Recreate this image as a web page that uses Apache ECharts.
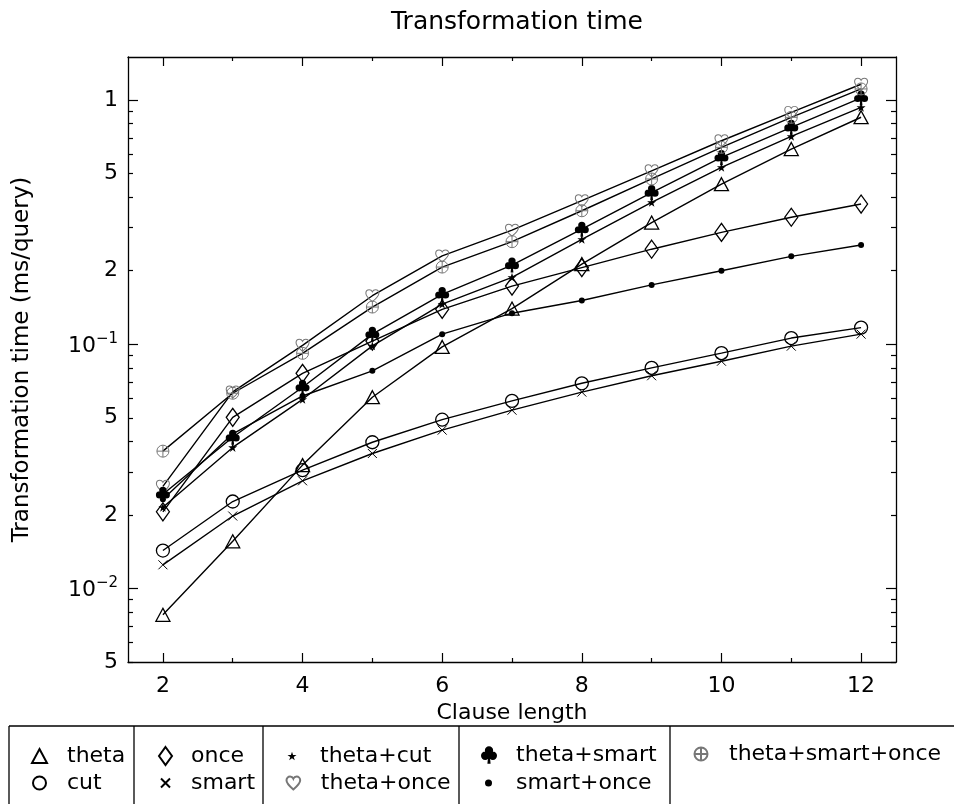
<!DOCTYPE html>
<html><head><meta charset="utf-8">
<script src="https://cdn.jsdelivr.net/npm/echarts@6/dist/echarts.min.js"></script>
<style>html,body{margin:0;padding:0;background:#fff}#c{width:954px;height:804px}</style>
</head><body><div id="c"></div>
<script>
// ---------- data ----------
const clauseLengths = [2, 3, 4, 5, 6, 7, 8, 9, 10, 11, 12];
const theta          = [0.0078, 0.0156, 0.0320, 0.0607, 0.0975, 0.140, 0.213, 0.315, 0.452, 0.630, 0.850];
const cut            = [0.0143, 0.0227, 0.0305, 0.0397, 0.0491, 0.0586, 0.0692, 0.0800, 0.0920, 0.106, 0.117];
const smart          = [0.0125, 0.0198, 0.0276, 0.0357, 0.0445, 0.0537, 0.0637, 0.0743, 0.0852, 0.0982, 0.110];
const once           = [0.0206, 0.0502, 0.0760, 0.103, 0.139, 0.173, 0.206, 0.245, 0.287, 0.331, 0.375];
const thetaCut       = [0.0215, 0.0378, 0.0595, 0.0985, 0.146, 0.188, 0.269, 0.381, 0.530, 0.710, 0.933];
const thetaOnce      = [0.0262, 0.0638, 0.0990, 0.158, 0.230, 0.293, 0.387, 0.513, 0.681, 0.890, 1.16];
const thetaSmart     = [0.0243, 0.0416, 0.0667, 0.110, 0.160, 0.211, 0.296, 0.418, 0.582, 0.773, 1.02];
const smartOnce      = [0.0232, 0.0430, 0.0614, 0.0778, 0.110, 0.134, 0.151, 0.175, 0.200, 0.229, 0.255];
const thetaSmartOnce = [0.0365, 0.0630, 0.0918, 0.142, 0.207, 0.263, 0.352, 0.475, 0.640, 0.849, 1.11];

const xMajorTicks = [2, 4, 6, 8, 10, 12];
const xMinorTicks = [3, 5, 7, 9, 11];
const yLabelValues = [0.005, 0.01, 0.02, 0.05, 0.1, 0.2, 0.5, 1];
const yMajorTicks = [0.01, 0.1, 1];
const yMinorTicks = [0.005, 0.006, 0.007, 0.008, 0.009,
                     0.02, 0.03, 0.04, 0.05, 0.06, 0.07, 0.08, 0.09,
                     0.2, 0.3, 0.4, 0.5, 0.6, 0.7, 0.8, 0.9];

// ---------- styling ----------
const FONT = 'DejaVu Sans';
const BLACK = '#000';
const GREY = '#777';
const NOFILL = 'rgba(0,0,0,0)';

const SYM = {
  cross: 'path://M0,0L10,10M10,0L0,10',
  star: 'path://M5,0L6.2,3.6L10,3.6L6.9,5.9L8.1,9.5L5,7.3L1.9,9.5L3.1,5.9L0,3.6L3.8,3.6Z',
  heart: 'path://M5,9.5C2,7 0,5 0,2.8C0,1.2 1.2,0 2.6,0C3.7,0 4.6,0.7 5,1.6C5.4,0.7 6.3,0 7.4,0C8.8,0 10,1.2 10,2.8C10,5 8,7 5,9.5Z',
  club: 'path://M2.4,2.7A2.6,2.6 0 1,0 7.6,2.7A2.6,2.6 0 1,0 2.4,2.7ZM0,6A2.6,2.6 0 1,0 5.2,6A2.6,2.6 0 1,0 0,6ZM4.8,6A2.6,2.6 0 1,0 10,6A2.6,2.6 0 1,0 4.8,6ZM4.6,5L4.0,11L6.0,11L5.4,5Z',
  oplus: 'path://M0,5A5,5 0 1,0 10,5A5,5 0 1,0 0,5ZM0,5L10,5M5,0L5,10'
};

const seriesDefs = [
  {name: 'theta', data: theta, symbol: 'triangle', size: [14, 13], fill: NOFILL, stroke: BLACK, bw: 1.3},
  {name: 'cut', data: cut, symbol: 'circle', size: 13, fill: NOFILL, stroke: BLACK, bw: 1.3},
  {name: 'once', data: once, symbol: 'diamond', size: [13, 18], fill: NOFILL, stroke: BLACK, bw: 1.3},
  {name: 'smart', data: smart, symbol: SYM.cross, size: 9, fill: NOFILL, stroke: BLACK, bw: 1},
  {name: 'theta+cut', data: thetaCut, symbol: SYM.star, size: 9, fill: BLACK, stroke: BLACK, bw: 0},
  {name: 'theta+once', data: thetaOnce, symbol: SYM.heart, size: [13, 12], fill: NOFILL, stroke: GREY, bw: 1},
  {name: 'theta+smart', data: thetaSmart, symbol: SYM.club, size: [14, 15], fill: BLACK, stroke: BLACK, bw: 0},
  {name: 'smart+once', data: smartOnce, symbol: 'circle', size: 6, fill: BLACK, stroke: BLACK, bw: 0},
  {name: 'theta+smart+once', data: thetaSmartOnce, symbol: SYM.oplus, size: 12, fill: NOFILL, stroke: GREY, bw: 1}
];

const series = seriesDefs.map(d => ({
  name: d.name,
  type: 'line',
  data: clauseLengths.map((x, i) => [x, d.data[i]]),
  symbol: d.symbol,
  symbolSize: d.size,
  showSymbol: true,
  lineStyle: {color: BLACK, width: 1.4},
  itemStyle: {color: d.fill, borderColor: d.stroke, borderWidth: d.bw},
  emphasis: {disabled: true},
  animation: false,
  z: 2
}));

// legend: [name, iconCenterX, rowCenterY, textStartX, iconW, iconH]
const legendLayout = [
  ['theta', 38.5, 756, 66, 15, 14],
  ['cut', 38.5, 783, 66, 13, 13],
  ['once', 164.5, 756, 190, 13, 18],
  ['smart', 164.5, 783, 190, 9, 9],
  ['theta+cut', 292, 756, 320, 9, 9],
  ['theta+once', 292.5, 783, 320, 14, 13],
  ['theta+smart', 489, 755, 516, 16, 18],
  ['smart+once', 488.5, 783, 516, 7, 7],
  ['theta+smart+once', 700, 754, 728, 13, 13]
];
const legends = legendLayout.map(([name, cx, cy, tx, w, h]) => {
  const def = seriesDefs.find(d => d.name === name);
  const left = cx - w / 2;
  return {
    show: true,
    orient: 'vertical',
    padding: 0,
    left: left,
    top: cy - 13,
    itemWidth: w,
    itemHeight: h,
    selectedMode: false,
    data: [{name: name, icon: def.symbol}],
    textStyle: {fontSize: 22, fontFamily: FONT, color: BLACK, lineHeight: 26,
                padding: [0, 0, 0, Math.max(0, tx - left - w - 5)]}
  };
});

const axisLineStyle = {color: BLACK, width: 1.3};
function xAxis(pos, ticks, len, major) {
  return {
    type: 'value', min: 1.5, max: 12.5, position: pos,
    axisLine: {show: major, lineStyle: axisLineStyle},
    axisTick: {show: true, inside: true, length: len, customValues: ticks, lineStyle: {color: BLACK, width: 1.2}},
    axisLabel: {show: false},
    splitLine: {show: false}, minorTick: {show: false}
  };
}
function yAxis(pos, ticks, len, major) {
  return {
    type: 'log', logBase: 10, min: 0.005, max: 1.5, position: pos,
    axisLine: {show: major, lineStyle: axisLineStyle},
    axisTick: {show: true, inside: true, length: len, customValues: ticks, lineStyle: {color: BLACK, width: 1.2}},
    axisLabel: {show: false},
    splitLine: {show: false}, minorTick: {show: false}
  };
}

const xBottom = xAxis('bottom', xMajorTicks, 9, true);
xBottom.axisLabel = {show: true, customValues: xMajorTicks, margin: 13, fontSize: 22, fontFamily: FONT, color: BLACK};
xBottom.name = 'Clause length';
xBottom.nameLocation = 'middle';
xBottom.nameGap = 29;
xBottom.nameTextStyle = {fontSize: 22, fontFamily: FONT, color: BLACK};

const yLeft = yAxis('left', yMajorTicks, 10, true);
yLeft.axisLabel = {
  show: true, customValues: yLabelValues, margin: 10, fontSize: 22, fontFamily: FONT, color: BLACK,
  formatter: function (v) {
    const lg = Math.log10(v);
    const r = Math.round(lg);
    if (Math.abs(lg - r) < 1e-6) {
      if (r === 0) return '1';
      return '{n|10}{s|\u2212' + Math.abs(r) + '}';
    }
    const lead = Math.round(v / Math.pow(10, Math.floor(lg + 1e-9)));
    return String(lead);
  },
  rich: {
    n: {fontSize: 22, fontFamily: FONT, color: BLACK, lineHeight: 26, verticalAlign: 'bottom'},
    s: {fontSize: 15, fontFamily: FONT, color: BLACK, lineHeight: 15, verticalAlign: 'top'}
  }
};
yLeft.name = 'Transformation time (ms/query)';
yLeft.nameLocation = 'middle';
yLeft.nameGap = 94;
yLeft.nameTextStyle = {fontSize: 23, fontFamily: FONT, color: BLACK};

const option = {
  backgroundColor: '#fff',
  animation: false,
  title: {
    text: 'Transformation time', left: 512, top: 5, textAlign: 'center',
    textStyle: {fontSize: 25, fontWeight: 'normal', fontFamily: FONT, color: BLACK}
  },
  grid: {left: 128, top: 57, right: 58, bottom: 142, containLabel: false},
  xAxis: [
    xBottom,
    xAxis('bottom', xMinorTicks, 4, false),
    xAxis('top', xMajorTicks, 9, true),
    xAxis('top', xMinorTicks, 4, false)
  ],
  yAxis: [
    yLeft,
    yAxis('left', yMinorTicks, 5, false),
    yAxis('right', yMajorTicks, 10, true),
    yAxis('right', yMinorTicks, 5, false)
  ],
  legend: legends,
  series: series,
  graphic: [
    {type: 'line', shape: {x1: 9, y1: 726, x2: 954, y2: 726}, style: {stroke: BLACK, lineWidth: 1.3}},
    {type: 'line', shape: {x1: 9, y1: 726, x2: 9, y2: 804}, style: {stroke: BLACK, lineWidth: 1.3}},
    {type: 'line', shape: {x1: 134, y1: 726, x2: 134, y2: 804}, style: {stroke: BLACK, lineWidth: 1.3}},
    {type: 'line', shape: {x1: 263, y1: 726, x2: 263, y2: 804}, style: {stroke: BLACK, lineWidth: 1.3}},
    {type: 'line', shape: {x1: 459, y1: 726, x2: 459, y2: 804}, style: {stroke: BLACK, lineWidth: 1.3}},
    {type: 'line', shape: {x1: 670, y1: 726, x2: 670, y2: 804}, style: {stroke: BLACK, lineWidth: 1.3}}
  ]
};

const chart = echarts.init(document.getElementById('c'), null, {renderer: 'canvas'});
chart.setOption(option);
</script>
</body></html>
